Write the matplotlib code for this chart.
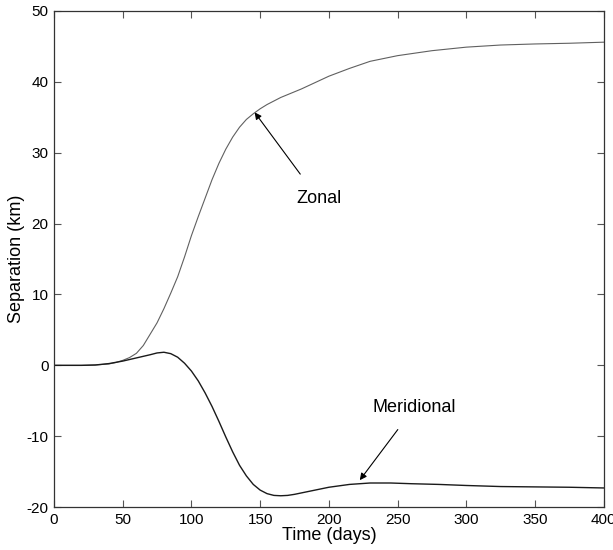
"""
Zonal and meridional separation of the float pair against time
"""
import matplotlib.pyplot as plt

plt.rcParams['font.family'] = ['Liberation Sans', 'DejaVu Sans']
plt.rcParams['axes.unicode_minus'] = False

# zonal separation (km)
zonal_t = [0, 20, 30, 40, 45, 50, 55, 60, 65, 70, 75, 80, 85, 90, 95, 100,
           105, 110, 115, 120, 125, 130, 135, 140, 145, 150, 155, 160, 165,
           170, 180, 190, 200, 215, 230, 250, 275, 300, 325, 350, 375, 400]
zonal_km = [0, 0, 0.05, 0.2, 0.4, 0.7, 1.1, 1.7, 2.8, 4.4, 6.0, 8.0, 10.2,
            12.5, 15.3, 18.3, 21.0, 23.6, 26.2, 28.5, 30.5, 32.2, 33.6, 34.7,
            35.5, 36.2, 36.8, 37.3, 37.8, 38.2, 39.0, 39.9, 40.8, 41.9, 42.9,
            43.7, 44.4, 44.9, 45.2, 45.35, 45.45, 45.6]

# meridional separation (km)
merid_t = [0, 20, 30, 40, 50, 60, 70, 75, 80, 85, 90, 95, 100, 105, 110, 115,
           120, 125, 130, 135, 140, 145, 150, 155, 160, 165, 170, 175, 185,
           200, 215, 230, 245, 260, 280, 300, 325, 350, 375, 400]
merid_km = [0, 0, 0.05, 0.25, 0.6, 1.05, 1.5, 1.75, 1.85, 1.65, 1.15, 0.3,
            -0.8, -2.2, -3.9, -5.8, -7.9, -10.1, -12.2, -14.1, -15.6, -16.8,
            -17.6, -18.1, -18.35, -18.4, -18.35, -18.2, -17.8, -17.2, -16.8,
            -16.6, -16.6, -16.7, -16.8, -16.95, -17.1, -17.15, -17.2, -17.3]

fig = plt.figure(figsize=(6.13, 5.5), dpi=100)
ax = fig.add_axes([0.088, 0.078, 0.897, 0.902])

ax.plot(zonal_t, zonal_km, color='#606060', lw=0.8)
ax.plot(merid_t, merid_km, color='#1a1a1a', lw=1.0)

ax.annotate('Zonal', xy=(146, 35.7), xytext=(176, 23.5), fontsize=13,
            va='center', ha='left',
            arrowprops=dict(arrowstyle='-|>', color='black', lw=0.8,
                            shrinkA=12, shrinkB=0, mutation_scale=10))
ax.annotate('Meridional', xy=(222.5, -16.2), xytext=(232, -5.9), fontsize=13,
            va='center', ha='left',
            arrowprops=dict(arrowstyle='-|>', color='black', lw=0.8,
                            shrinkA=10, shrinkB=0, mutation_scale=10))

ax.set_xlim(0, 400)
ax.set_ylim(-20, 50)
ax.set_xticks(range(0, 401, 50))
ax.set_yticks(range(-20, 51, 10))
ax.tick_params(direction='in', top=True, right=True, length=5, width=0.8,
               color='#555555', labelsize=11, pad=4)
for s in ax.spines.values():
    s.set_color('#333333')
    s.set_linewidth(0.9)

ax.set_xlabel('Time (days)', fontsize=13, labelpad=0)
ax.set_ylabel('Separation (km)', fontsize=13, labelpad=1)

fig.savefig('out.png', dpi=100)
